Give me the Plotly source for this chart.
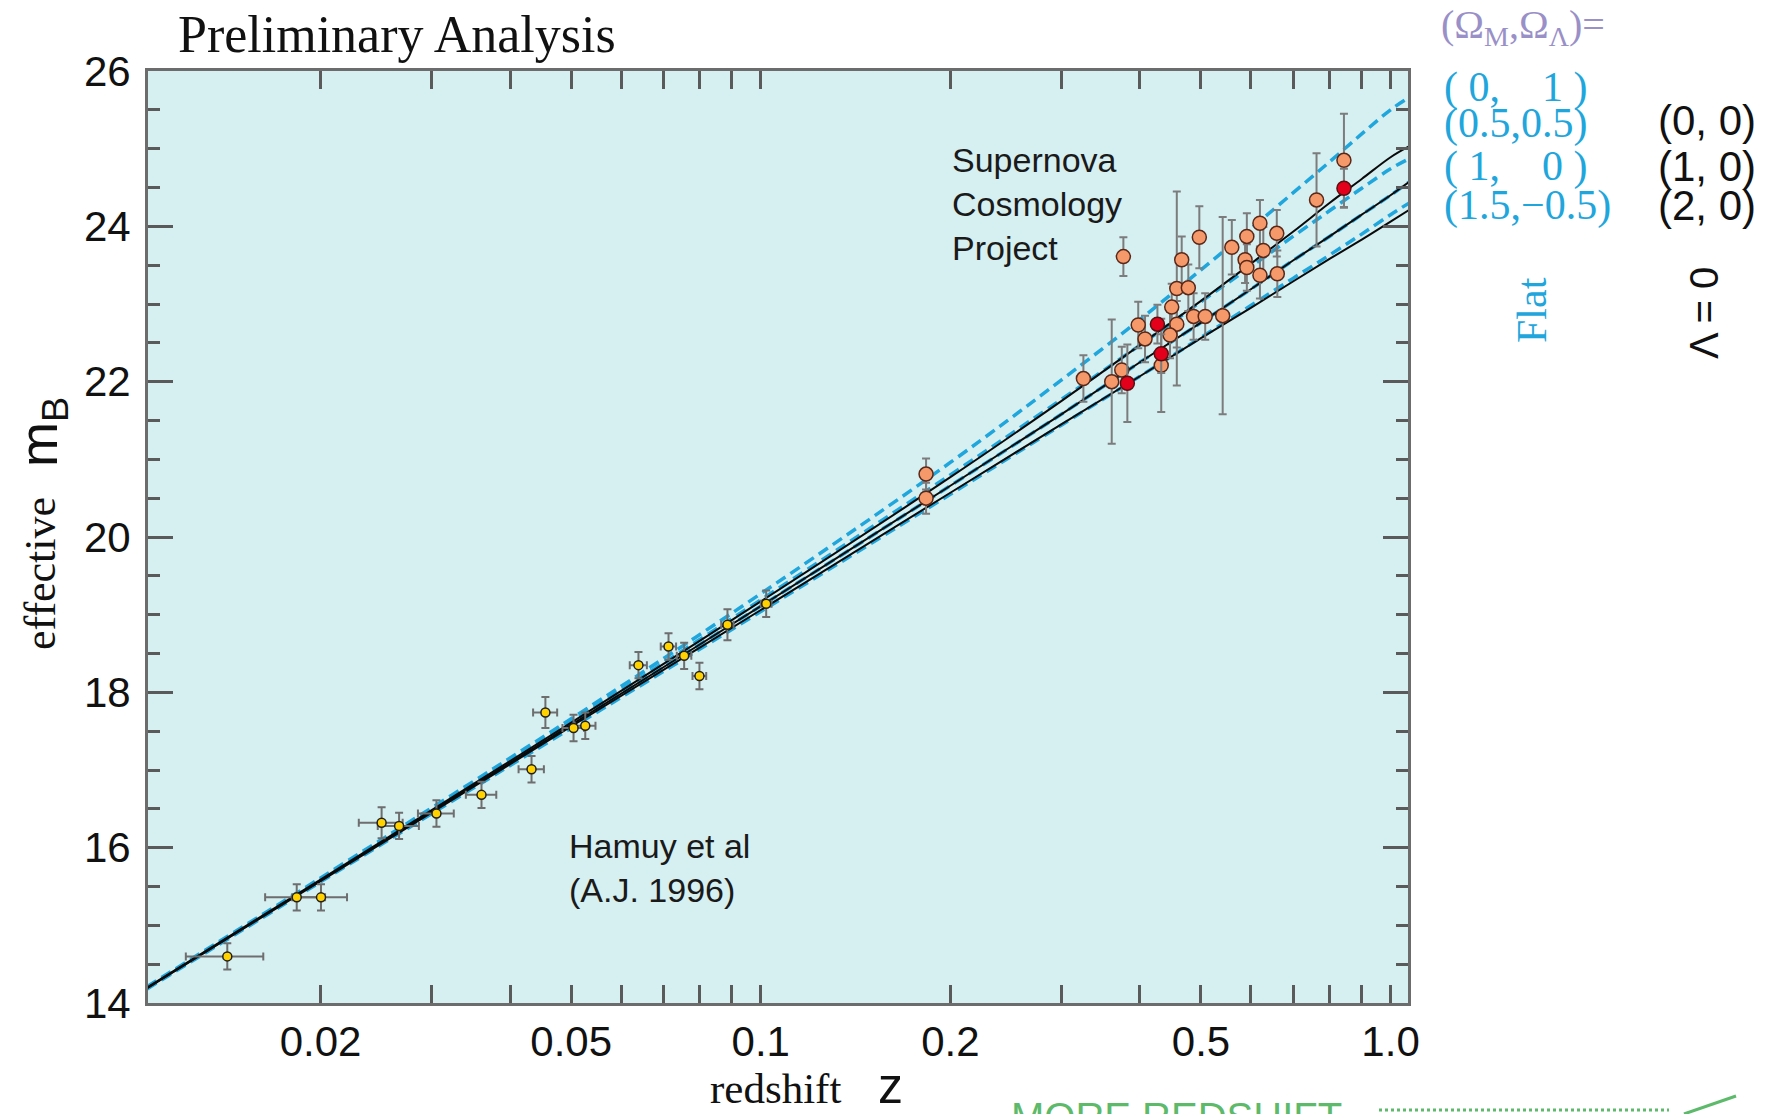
import plotly.graph_objects as go

# ---------------- data ----------------
# Calan/Tololo (Hamuy et al 1996) low-redshift supernovae
hamuy_z = [0.01422, 0.01833, 0.02003, 0.02500, 0.02665, 0.03055, 0.03602, 0.04325, 0.04550,
           0.05043, 0.05264, 0.06394, 0.07137, 0.07557, 0.07991, 0.08853, 0.10200]
hamuy_m = [14.60, 15.36, 15.36, 16.32, 16.28, 16.44, 16.68, 17.01, 17.74,
           17.54, 17.57, 18.35, 18.59, 18.47, 18.21, 18.87, 19.14]
hamuy_dm = [0.17, 0.17, 0.17, 0.20, 0.17, 0.17, 0.17, 0.17, 0.20,
            0.17, 0.17, 0.17, 0.17, 0.17, 0.17, 0.20, 0.17]
hamuy_dz = [0.002, 0.002, 0.002, 0.002, 0.002, 0.002, 0.002, 0.002, 0.002,
            0.002, 0.002, 0.002, 0.002, 0.002, 0.002, 0.002, 0.002]

# Supernova Cosmology Project high-redshift supernovae (orange)
scp_z = [0.183, 0.183, 0.3253, 0.3608, 0.3743, 0.3765, 0.466, 0.497, 0.5597, 0.6203,
         0.5913, 0.6597, 0.628, 0.5875, 0.5913, 0.6203, 0.661, 0.4577, 0.4774, 0.4493,
         0.4577, 0.4465, 0.3975, 0.4075, 0.4867, 0.5078, 0.5413, 0.4324, 0.8433, 0.7629]
scp_m = [20.81, 20.50, 22.04, 22.00, 22.15, 23.61, 23.57, 23.86, 23.73, 24.04,
         23.87, 23.91, 23.69, 23.57, 23.47, 23.37, 23.39, 23.20, 23.21, 22.96,
         22.74, 22.60, 22.73, 22.55, 22.84, 22.84, 22.85, 22.21, 24.85, 24.34]
scp_dm = [0.20, 0.20, 0.30, 0.80, 0.30, 0.25, 0.30, 0.40, 0.35, 0.30,
          0.30, 0.30, 0.30, 0.30, 0.30, 0.30, 0.30, 1.25, 0.30, 0.30,
          0.30, 0.30, 0.30, 0.30, 0.30, 0.30, 1.27, 0.60, 0.60, 0.60]

# Supernova Cosmology Project (red)
red_z = [0.382, 0.4264, 0.4324, 0.8433]
red_m = [21.98, 22.74, 22.36, 24.49]
red_dm = [0.50, 0.25, 0.25, 0.25]

# model curves, effective m_B
model_z = [0.0106, 0.02, 0.05, 0.1, 0.2, 0.3, 0.4, 0.5, 0.6, 0.7, 0.8, 0.9, 1.0, 1.07]
m_lam0_00 = [14.20, 15.59, 17.61, 19.17, 20.77, 21.75, 22.47, 23.04, 23.52, 23.93, 24.30, 24.61, 24.89, 25.03]
m_lam0_10 = [14.19, 15.58, 17.58, 19.11, 20.66, 21.58, 22.25, 22.76, 23.19, 23.56, 23.87, 24.15, 24.40, 24.57]
m_lam0_20 = [14.19, 15.57, 17.56, 19.06, 20.57, 21.45, 22.07, 22.56, 22.95, 23.29, 23.58, 23.83, 24.06, 24.21]
m_flat_01 = [14.21, 15.61, 17.66, 19.27, 20.96, 22.02, 22.80, 23.44, 23.97, 24.43, 24.83, 25.19, 25.50, 25.66]
m_flat_0505 = [14.20, 15.59, 17.62, 19.19, 20.80, 21.77, 22.47, 23.03, 23.48, 23.87, 24.20, 24.49, 24.74, 24.87]
m_flat_10 = m_lam0_10
m_flat_1505 = [14.18, 15.56, 17.54, 19.04, 20.55, 21.44, 22.07, 22.57, 22.98, 23.33, 23.63, 23.90, 24.15, 24.30]

x_tickvals = [0.02, 0.05, 0.1, 0.2, 0.5, 1.0]
x_ticktext = ["0.02", "0.05", "0.1", "0.2", "0.5", "1.0"]
x_minorvals = [0.03, 0.04, 0.06, 0.07, 0.08, 0.09, 0.3, 0.4, 0.6, 0.7, 0.8, 0.9]
y_tickvals = [14, 16, 18, 20, 22, 24, 26]
y_ticktext = ["14", "16", "18", "20", "22", "24", "26"]

# ---------------- styling ----------------
W, H = 1780, 1114
L, R, T, B = 148, 1408, 71, 1003
SERIF = "Liberation Serif, Times New Roman, serif"
SANS = "Liberation Sans, Arial, Helvetica, sans-serif"
CYAN = "#1fa6dc"
BG = "#d6eff1"
TICKC = "#5a5a5a"


def px(x):
    return (x - L) / (R - L)


def py(y):
    return (B - y) / (B - T)


fig = go.Figure()

for mv in [m_flat_01, m_flat_0505, m_flat_10, m_flat_1505]:
    fig.add_trace(go.Scatter(x=model_z, y=mv, mode="lines",
                             line=dict(color=CYAN, width=3.5, dash="11px,6px", shape="spline"),
                             hoverinfo="skip", showlegend=False))
for mv in [m_lam0_00, m_lam0_10, m_lam0_20]:
    fig.add_trace(go.Scatter(x=model_z, y=mv, mode="lines",
                             line=dict(color="#0a0a0a", width=2, shape="spline"),
                             hoverinfo="skip", showlegend=False))

fig.add_trace(go.Scatter(
    x=hamuy_z, y=hamuy_m, mode="markers",
    error_y=dict(type="data", array=hamuy_dm, color="#6e6e6e", thickness=2, width=4),
    error_x=dict(type="data", array=hamuy_dz, color="#6e6e6e", thickness=2, width=4),
    marker=dict(size=9, color="#ffd200", line=dict(color="#202020", width=1.5)),
    showlegend=False))

fig.add_trace(go.Scatter(
    x=scp_z, y=scp_m, mode="markers",
    error_y=dict(type="data", array=scp_dm, color="#7c7c7c", thickness=2, width=4),
    marker=dict(size=14, color="#f5996a", line=dict(color="#5a2818", width=1.5)),
    showlegend=False))

fig.add_trace(go.Scatter(
    x=red_z, y=red_m, mode="markers",
    error_y=dict(type="data", array=red_dm, color="#7c7c7c", thickness=2, width=4),
    marker=dict(size=14, color="#e3001b", line=dict(color="#5a1010", width=1.5)),
    showlegend=False))

annotations = []


def ann(text, x, y, size, color="#111111", family=SANS, xanchor="center",
        yanchor="middle", angle=0, align="left"):
    annotations.append(dict(text=text, x=px(x), y=py(y), xref="paper", yref="paper",
                            showarrow=False, xanchor=xanchor, yanchor=yanchor,
                            textangle=angle, align=align, borderpad=0,
                            font=dict(family=family, size=size, color=color)))


ann("Preliminary Analysis", 397, 34, 52, "#111111", SERIF)
ann("Supernova<br>Cosmology<br>Project", 951, 204, 34, "#1a1a1a", SANS, xanchor="left")
ann("Hamuy et al<br>(A.J. 1996)", 568, 868, 34, "#1a1a1a", SANS, xanchor="left")
ann("redshift", 775, 1088, 43, "#111111", SERIF)
ann("z", 890, 1086, 50, "#111111", SANS)
ann("effective", 40, 574, 44, "#111111", SERIF, angle=-90)
ann("m<sub>B</sub>", 42, 432, 54, "#111111", SANS, angle=-90)

ann("(Ω<sub>M</sub>,Ω<sub>Λ</sub>)=", 1440, 1, 40, "#9a90c8", SERIF, xanchor="left", yanchor="top")
ann("(\u00a00,\u00a0\u00a0\u00a0\u00a01\u00a0)", 1443, 88, 42, CYAN, SERIF, xanchor="left")
ann("(0.5,0.5)", 1443, 124, 42, CYAN, SERIF, xanchor="left")
ann("(\u00a01,\u00a0\u00a0\u00a0\u00a00\u00a0)", 1443, 167, 42, CYAN, SERIF, xanchor="left")
ann("(1.5,\u22120.5)", 1443, 205, 42, CYAN, SERIF, xanchor="left")
ann("(0, 0)", 1657, 120, 42, "#111111", SANS, xanchor="left")
ann("(1, 0)", 1657, 166, 42, "#111111", SANS, xanchor="left")
ann("(2, 0)", 1657, 205, 42, "#111111", SANS, xanchor="left")
ann("Flat", 1532, 310, 42, CYAN, SERIF, angle=-90)
ann("Λ = 0", 1704, 313, 40, "#111111", SANS, angle=-90)
ann("MORE REDSHIFT", 1010, 1094, 40, "#5cba6a", SANS, xanchor="left", yanchor="top")

shapes = [
    dict(type="line", xref="paper", yref="paper", x0=px(1379), x1=px(1669), y0=py(1110), y1=py(1110),
         line=dict(color="#5cba6a", width=3, dash="dot")),
    dict(type="line", xref="paper", yref="paper", x0=px(1684), x1=px(1736), y0=py(1114), y1=py(1096),
         line=dict(color="#5cba6a", width=3)),
]

axis_common = dict(showline=True, linecolor="#6c6c6c", linewidth=3, mirror="allticks",
                   ticks="inside", tickcolor=TICKC, tickwidth=2.5, showgrid=False,
                   zeroline=False, tickfont=dict(family=SANS, size=42, color="#111111"))

fig.update_layout(
    width=W, height=H,
    margin=dict(l=L, r=W - R, t=T, b=H - B),
    paper_bgcolor="white", plot_bgcolor=BG,
    annotations=annotations, shapes=shapes,
    xaxis=dict(type="log", range=[-1.973, 0.0277], tickmode="array",
               tickvals=x_tickvals, ticktext=x_ticktext,
               ticklen=18, ticklabelstandoff=0,
               minor=dict(tickmode="array", tickvals=x_minorvals, ticklen=18, ticks="inside",
                          tickcolor=TICKC, tickwidth=2.5, showgrid=False),
               **axis_common),
    yaxis=dict(range=[14, 26], tickmode="array", tickvals=y_tickvals, ticktext=y_ticktext,
               ticklen=25, ticklabelstandoff=6,
               minor=dict(dtick=0.5, ticklen=12, ticks="inside", tickcolor=TICKC,
                          tickwidth=2.5, showgrid=False),
               **axis_common),
)

fig.write_html("out.html")
